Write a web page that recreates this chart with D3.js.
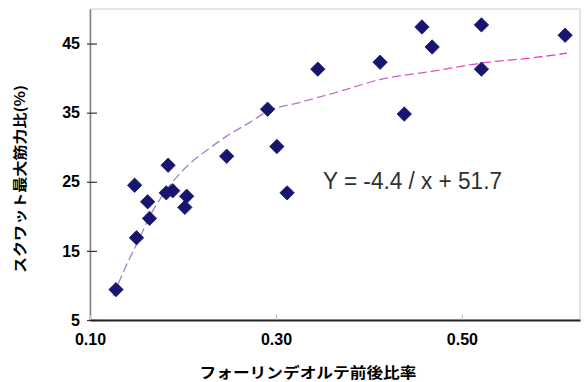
<!DOCTYPE html>
<html><head><meta charset="utf-8">
<script src="https://cdn.jsdelivr.net/npm/d3@7"></script>
<style>body{margin:0;background:#fff;overflow:hidden}</style>
</head><body><svg id="c" width="585" height="382"></svg>
<script>
// ---- data ----
const pointX = [0.128, 0.150, 0.164, 0.162, 0.148, 0.184, 0.182, 0.189, 0.204, 0.202, 0.247, 0.291, 0.301, 0.312, 0.345, 0.412, 0.438, 0.457, 0.468, 0.521, 0.521, 0.611];
const pointY = [9.4, 16.9, 19.7, 22.1, 24.5, 27.4, 23.4, 23.7, 22.9, 21.3, 28.7, 35.5, 30.1, 23.4, 41.3, 42.3, 34.8, 47.4, 44.5, 47.7, 41.3, 46.2];
const trendX = [0.125, 0.138, 0.151, 0.165, 0.181, 0.204, 0.227, 0.247, 0.272, 0.291, 0.326, 0.369, 0.412, 0.469, 0.522, 0.573, 0.613];
const trendY = [8.5, 12.6, 16.2, 20.2, 23.6, 27.2, 29.7, 31.6, 33.6, 35.2, 36.5, 38.1, 39.8, 41.0, 42.2, 42.9, 43.6];
const xTickValues = [0.1, 0.3, 0.5];
const xTickLabels = ["0.10", "0.30", "0.50"];
const yTickValues = [5, 15, 25, 35, 45];
const yTickLabels = ["5", "15", "25", "35", "45"];
const equationText = "Y = -4.4 / x + 51.7";
const xTitle = "フォーリンデオルテ前後比率";
const yTitle = "スクワット最大筋力比(%)";

// ---- drawing ----
const svg = d3.select("#c");
const L = 90, R = 580, T = 9, B = 320;
const x = d3.scaleLinear().domain([0.1, 0.627]).range([L, R]);
const y = d3.scaleLinear().domain([5, 50]).range([B, T]);

svg.append("rect").attr("width", 585).attr("height", 382).attr("fill", "#fff");
svg.append("rect").attr("x", L).attr("y", T).attr("width", R - L).attr("height", B - T)
  .attr("fill", "#fff").attr("stroke", "#d6d6d6").attr("stroke-width", 1.2);

// y axis
const yAxis = d3.axisLeft(y).tickValues(yTickValues).tickFormat((d, i) => yTickLabels[i])
  .tickSizeInner(-7).tickSizeOuter(0).tickPadding(10);
const gy = svg.append("g").attr("transform", `translate(${L},0)`).call(yAxis);
gy.select(".domain").attr("stroke", "#808080").attr("stroke-width", 1.5);
gy.selectAll(".tick line").attr("x1", -3).attr("x2", 7).attr("stroke", "#333").attr("stroke-width", 1.2);
gy.selectAll(".tick text").attr("x", -10).attr("font-family", "'Liberation Sans', Arial, sans-serif")
  .attr("font-weight", "bold").attr("font-size", 16).attr("fill", "#000");

// x axis
const xAxis = d3.axisBottom(x).tickValues(xTickValues).tickFormat((d, i) => xTickLabels[i])
  .tickSizeInner(-5).tickSizeOuter(0).tickPadding(14);
const gx = svg.append("g").attr("transform", `translate(0,${B})`).call(xAxis);
gx.select(".domain").attr("stroke", "#222").attr("stroke-width", 2.2);
gx.selectAll(".tick line").attr("stroke", "#bbb").attr("stroke-width", 1);
gx.selectAll(".tick text").attr("font-family", "'Liberation Sans', Arial, sans-serif")
  .attr("font-weight", "bold").attr("font-size", 16).attr("fill", "#000");

// trendline
const defs = svg.append("defs");
const grad = defs.append("linearGradient").attr("id", "tg").attr("gradientUnits", "userSpaceOnUse")
  .attr("x1", 110).attr("x2", 570).attr("y1", 0).attr("y2", 0);
grad.append("stop").attr("offset", 0).attr("stop-color", "#8c8cc4");
grad.append("stop").attr("offset", 0.45).attr("stop-color", "#b878c0");
grad.append("stop").attr("offset", 1).attr("stop-color", "#ff30d0");
const trend = trendX.map((v, i) => [v, trendY[i]]);
svg.append("path").datum(trend)
  .attr("d", d3.line().x(d => x(d[0])).y(d => y(d[1])).curve(d3.curveMonotoneX))
  .attr("fill", "none").attr("stroke", "url(#tg)").attr("stroke-width", 1.3)
  .attr("stroke-dasharray", "9,4");

// points
const pts = pointX.map((v, i) => [v, pointY[i]]);
const h = 7.2;
svg.append("g").selectAll("path").data(pts).join("path")
  .attr("d", d => `M${x(d[0])},${y(d[1]) - h}L${x(d[0]) + h},${y(d[1])}L${x(d[0])},${y(d[1]) + h}L${x(d[0]) - h},${y(d[1])}Z`)
  .attr("fill", "#16166e").attr("stroke", "#16166e").attr("stroke-width", 0.8).attr("stroke-linejoin", "round");

// equation
svg.append("text").attr("x", 323).attr("y", 189).text(equationText)
  .attr("font-family", "'Liberation Sans', Arial, sans-serif").attr("font-size", 23)
  .attr("textLength", 179).attr("lengthAdjust", "spacingAndGlyphs").attr("fill", "#303030");

// titles
svg.append("text").attr("x", 308).attr("y", 378).attr("text-anchor", "middle").text(xTitle)
  .attr("font-family", "'Noto Sans CJK JP', sans-serif").attr("font-weight", "bold").attr("font-size", 15)
  .attr("textLength", 217).attr("lengthAdjust", "spacingAndGlyphs").attr("fill", "#000");
svg.append("text").attr("transform", "translate(25,179) rotate(-90)").attr("text-anchor", "middle").text(yTitle)
  .attr("font-family", "'Noto Sans CJK JP', sans-serif").attr("font-weight", "bold").attr("font-size", 14)
  .attr("textLength", 188).attr("lengthAdjust", "spacingAndGlyphs").attr("fill", "#000");
</script></body></html>
